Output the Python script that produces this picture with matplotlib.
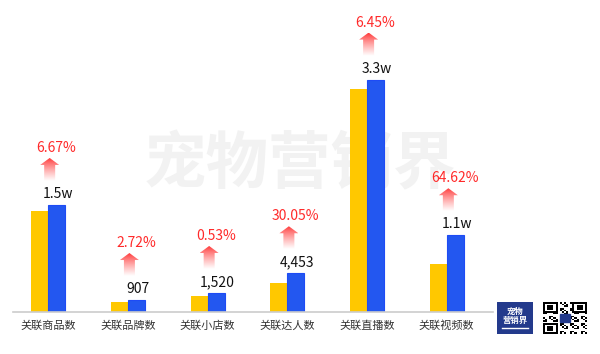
import matplotlib
matplotlib.use("Agg")
import matplotlib.pyplot as plt
import numpy as np
from matplotlib.patches import Polygon, Rectangle

plt.rcParams['font.family'] = ['Noto Sans CJK SC', 'DejaVu Sans']

# Data
categories = ["关联商品数", "关联品牌数", "关联小店数", "关联达人数", "关联直播数", "关联视频数"]
prev_vals = [14300, 1400, 2300, 4100, 31600, 6800]
curr_vals = [15200, 1700, 2700, 5500, 33000, 10900]
value_labels = ["1.5w", "907", "1,520", "4,453", "3.3w", "1.1w"]
growth_labels = ["6.67%", "2.72%", "0.53%", "30.05%", "6.45%", "64.62%"]

yellow = "#FFC800"
blue = "#2357F0"
red = "#FF2A2A"

W, H = 600, 354
fig = plt.figure(figsize=(W / 100, H / 100), dpi=100)

# axes: baseline at y=312 px, x from 13 to 493 px
ax = fig.add_axes([13 / W, (H - 312) / H, 480 / W, 312 / H])
ax.patch.set_alpha(0)
ymax = 44300
px = ymax / 312.0  # data units per pixel

# watermark, behind the bars
ax.text(0.5, 0.534, "宠物营销界", ha="center", va="center", fontsize=45,
        fontweight="bold", color="#F2F2F2", zorder=0, transform=fig.transFigure)

x = np.arange(len(categories))
bw = 0.213
ax.bar(x - bw / 2, prev_vals, bw, color=yellow, zorder=2)
ax.bar(x + bw / 2, curr_vals, bw, color=blue, edgecolor="#1E4BF5", linewidth=0.8, zorder=2)

# gradient for arrows: red at top fading to white
grad = np.linspace(0, 1, 64).reshape(-1, 1) ** 0.8
cmap = matplotlib.colors.LinearSegmentedColormap.from_list("fade", ["#FF3535", "#FFFFFF"])

xpx = 79.8  # pixels per category step
for i, v in enumerate(curr_vals):
    top = v
    ax.text(x[i] + bw / 2 + 0.02, top + 4 * px, value_labels[i], ha="center", va="bottom",
            fontsize=10, color="#111111", zorder=4)
    ax.text(x[i] + bw / 2, top + 50 * px, growth_labels[i], ha="center", va="bottom",
            fontsize=10, color=red, zorder=4)
    # arrow
    cx = x[i] + 0.02
    tip = top + 47 * px
    hb = tip - 7 * px
    bot = tip - 23 * px
    hw = 9.5 / xpx
    sw = 5.5 / xpx
    poly = Polygon([(cx, tip), (cx + hw, hb), (cx + sw, hb), (cx + sw, bot),
                    (cx - sw, bot), (cx - sw, hb), (cx - hw, hb)],
                   closed=True, facecolor="none", edgecolor="none", transform=ax.transData)
    ax.add_patch(poly)
    im = ax.imshow(grad, cmap=cmap, aspect="auto", extent=(cx - hw, cx + hw, bot, tip),
                   origin="upper", zorder=3)
    im.set_clip_path(poly)

ax.set_xlim(-0.44, 5.58)
ax.set_ylim(0, ymax)

for s in ["top", "right", "left"]:
    ax.spines[s].set_visible(False)
ax.spines["bottom"].set_color("#CCCCCC")
ax.spines["bottom"].set_linewidth(1.2)
ax.set_yticks([])
ax.set_xticks(x)
ax.set_xticklabels(categories, fontsize=8, color="#333333")
ax.tick_params(axis="x", length=0, pad=6)

# logo block bottom right
lax = fig.add_axes([497 / W, (H - 334) / H, 36 / W, 32 / H])
lax.set_xlim(0, 1)
lax.set_ylim(0, 1)
lax.axis("off")
lax.add_patch(Rectangle((0, 0), 1, 1, color="#233A8C"))
lax.text(0.5, 0.7, "宠物", ha="center", va="center", color="white", fontsize=6, fontweight="bold")
lax.text(0.5, 0.42, "营销界", ha="center", va="center", color="white", fontsize=6, fontweight="bold")
lax.plot([0.15, 0.85], [0.2, 0.2], color="white", lw=1)

# QR-like decoration
qax = fig.add_axes([543 / W, (H - 334) / H, 44 / W, 32 / H])
n = 21
ii, jj = np.meshgrid(np.arange(n), np.arange(n))
qr = ((ii * 7 + jj * 3 + ii * jj) % 5 < 2).astype(float)
for (r0, c0) in [(0, 0), (0, n - 7), (n - 7, 0)]:
    qr[r0:r0 + 7, c0:c0 + 7] = 1
    qr[r0 + 1:r0 + 6, c0 + 1:c0 + 6] = 0
    qr[r0 + 2:r0 + 5, c0 + 2:c0 + 5] = 1
qax.imshow(qr, cmap="Greys", aspect="auto", interpolation="nearest")
qax.add_patch(Rectangle((7.5, 7.5), 5, 5, color="#233A8C"))
qax.axis("off")

fig.savefig("out.png", dpi=100)
